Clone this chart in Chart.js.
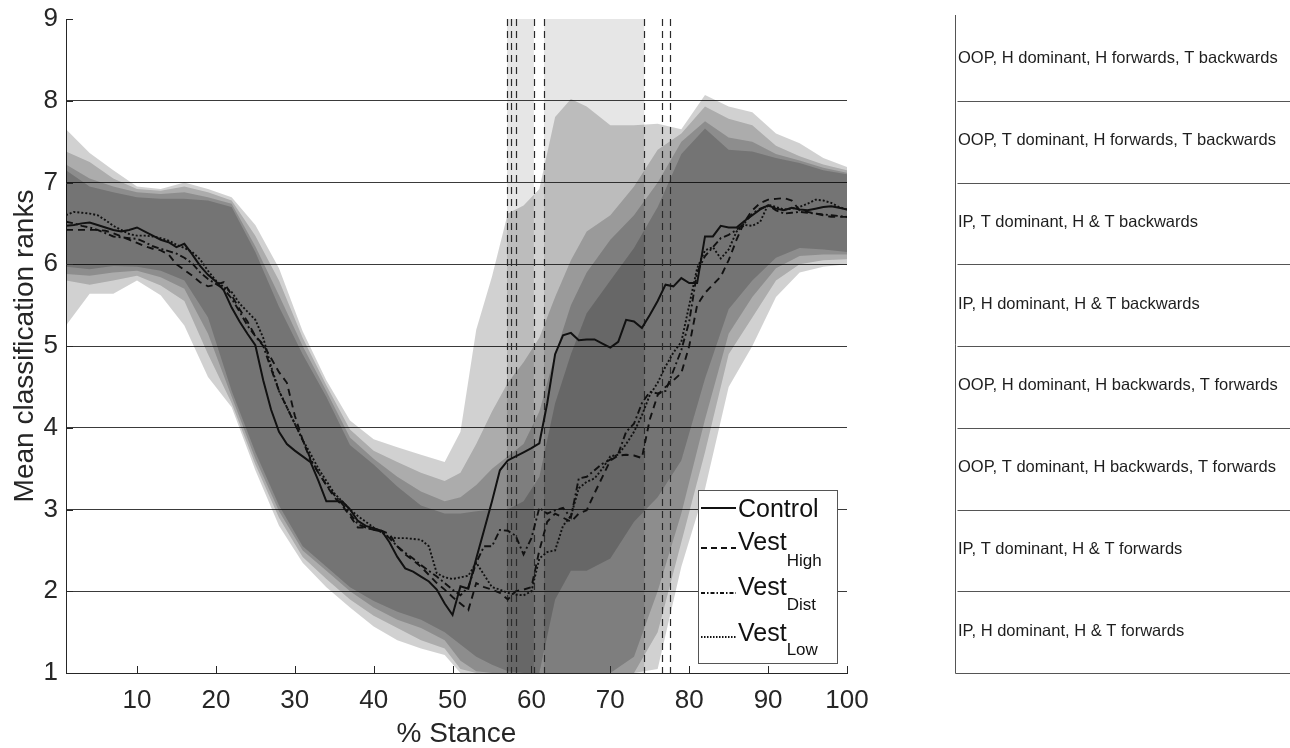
<!DOCTYPE html>
<html>
<head>
<meta charset="utf-8">
<title>Mean classification ranks over % stance</title>
<script src="https://cdn.jsdelivr.net/npm/chart.js@4.4.1/dist/chart.umd.min.js"></script>
<style>
html,body{margin:0;padding:0;background:#ffffff;}
#box{position:relative;width:1290px;height:748px;}
canvas{display:block;}
</style>
</head>
<body>
<div id="box"><canvas id="chart" width="1290" height="748"></canvas></div>
<script>
// ---------- DATA ----------
const stance = [1,2,3,4,5,6,7,8,9,10,11,12,13,14,15,16,17,18,19,20,21,22,23,24,25,26,27,28,29,30,31,32,33,34,35,36,37,38,39,40,41,42,43,44,45,46,47,48,49,50,51,52,53,54,55,56,57,58,59,60,61,62,63,64,65,66,67,68,69,70,71,72,73,74,75,76,77,78,79,80,81,82,83,84,85,86,87,88,89,90,91,92,93,94,95,96,97,98,99,100];

const control = [6.47,6.48,6.50,6.51,6.48,6.45,6.42,6.40,6.42,6.45, 6.40,6.35,6.30,6.27,6.21,6.25,6.12,5.98,5.87,5.79, 5.68,5.47,5.30,5.15,5.01,4.58,4.22,3.95,3.80,3.72, 3.65,3.58,3.35,3.10,3.10,3.10,3.00,2.86,2.80,2.77, 2.74,2.60,2.42,2.28,2.24,2.18,2.12,2.02,1.85,1.71, 2.06,2.03,2.40,2.75,3.10,3.48,3.60,3.65,3.70,3.75, 3.81,4.30,4.90,5.13,5.16,5.07,5.08,5.08,5.03,4.98, 5.05,5.32,5.30,5.22,5.38,5.55,5.75,5.73,5.83,5.77, 5.77,6.34,6.34,6.47,6.45,6.45,6.53,6.60,6.67,6.72, 6.68,6.66,6.69,6.67,6.66,6.68,6.70,6.71,6.69,6.67];

const vestHigh = [6.42,6.42,6.42,6.42,6.42,6.41,6.38,6.34,6.30,6.26, 6.22,6.19,6.17,6.12,6.00,5.93,5.86,5.78,5.73,5.75, 5.78,5.62,5.45,5.30,5.12,5.02,4.85,4.68,4.55,4.15, 3.85,3.60,3.45,3.30,3.15,3.05,2.92,2.78,2.78,2.75, 2.74,2.70,2.55,2.45,2.38,2.30,2.20,2.10,2.02,1.93, 1.85,1.77,2.10,2.05,2.02,1.98,1.90,2.00,2.02,2.05, 2.50,2.85,2.95,2.90,2.85,2.95,2.99,3.20,3.40,3.60, 3.66,3.67,3.66,3.63,4.10,4.40,4.50,4.58,4.67,5.00, 5.50,5.65,5.75,5.85,6.05,6.30,6.52,6.66,6.75,6.79, 6.80,6.81,6.78,6.66,6.64,6.62,6.60,6.58,6.58,6.58];

const vestDist = [6.52,6.50,6.47,6.45,6.42,6.38,6.34,6.33,6.32,6.31, 6.27,6.22,6.19,6.16,6.13,6.08,6.01,5.90,5.82,5.76, 5.70,5.58,5.42,5.25,5.12,5.00,4.72,4.45,4.25,4.05, 3.85,3.62,3.45,3.30,3.18,3.07,2.95,2.82,2.78,2.75, 2.73,2.65,2.55,2.47,2.40,2.32,2.25,2.18,2.10,2.02, 1.95,2.05,2.35,2.55,2.55,2.75,2.74,2.68,2.45,2.65, 3.02,2.95,2.99,3.02,2.90,3.38,3.40,3.48,3.56,3.61, 3.68,3.95,4.05,4.30,4.44,4.42,4.45,4.70,4.95,5.30, 5.90,6.10,6.21,6.32,6.36,6.42,6.50,6.62,6.68,6.72, 6.66,6.62,6.63,6.64,6.63,6.62,6.61,6.60,6.59,6.58];

const vestLow = [6.60,6.64,6.63,6.62,6.60,6.54,6.47,6.42,6.37,6.35, 6.35,6.34,6.32,6.29,6.24,6.20,6.15,6.06,5.92,5.80, 5.72,5.66,5.52,5.42,5.32,5.10,4.75,4.45,4.25,4.05, 3.85,3.68,3.50,3.35,3.20,3.10,3.00,2.92,2.85,2.78, 2.72,2.66,2.65,2.65,2.64,2.63,2.55,2.22,2.17,2.15, 2.17,2.19,2.35,2.20,2.05,2.02,1.98,1.96,1.95,2.00, 2.40,2.48,2.50,2.80,2.92,3.26,3.34,3.38,3.50,3.65, 3.67,3.80,3.95,4.15,4.40,4.55,4.75,4.92,5.05,5.50, 5.95,6.17,6.21,6.07,6.18,6.40,6.48,6.47,6.52,6.73, 6.70,6.67,6.68,6.70,6.74,6.79,6.78,6.75,6.70,6.67];

// SD shading envelopes (outermost band1 .. innermost band4), sampled on bandStance
const bandStance = [1,4,7,10,13,16,19,22,25,28,31,34,37,40,43,46,49,51,53,55,57,59,61,63,65,67,70,73,76,79,82,85,88,91,94,97,100];
const band1Upper = [7.65,7.36,7.15,6.95,6.92,7.00,6.92,6.82,6.48,5.95,5.18,4.58,4.09,3.86,3.76,3.67,3.58, 3.95,5.20,5.85,6.62,6.72,6.92,7.80,8.02,7.93, 7.70,7.70,7.72,7.65,8.07,7.93,7.86,7.60,7.48,7.30,7.19];
const band1Lower = [5.25,5.64,5.64,5.80,5.62,5.25,4.62,4.25,3.48,2.80,2.35,2.05,1.80,1.57,1.40,1.30,1.22, 1.00,1.00,1.00,1.00,1.00,1.00,1.00,1.00,1.00, 1.00,1.00,1.05,2.30,3.25,4.50,5.00,5.60,5.90,5.97,6.00];
const band2Upper = [7.38,7.25,7.05,6.92,6.90,6.95,6.88,6.78,6.35,5.80,5.10,4.52,3.98,3.72,3.58,3.45,3.35, 3.45,3.80,4.20,4.55,4.80,5.10,5.60,6.05,6.40, 6.60,6.95,7.40,7.60,7.93,7.78,7.70,7.45,7.32,7.22,7.15];
const band2Lower = [5.80,5.75,5.80,5.86,5.74,5.55,4.90,4.30,3.55,2.90,2.42,2.15,1.90,1.70,1.55,1.40,1.30, 1.05,1.00,1.00,1.00,1.00,1.00,1.00,1.00,1.00, 1.00,1.00,1.50,2.60,3.70,4.90,5.35,5.80,6.00,6.05,6.06];
const band3Upper = [7.22,7.05,6.95,6.88,6.86,6.88,6.82,6.74,6.22,5.62,5.00,4.45,3.88,3.62,3.40,3.22,3.10, 3.15,3.30,3.50,3.65,3.80,4.20,4.90,5.50,5.90, 6.30,6.60,7.00,7.50,7.75,7.55,7.50,7.35,7.27,7.18,7.12];
const band3Lower = [5.88,5.86,5.90,5.92,5.84,5.70,5.15,4.38,3.62,2.98,2.50,2.25,2.00,1.80,1.65,1.55,1.40, 1.15,1.02,1.00,1.00,1.00,1.00,1.00,1.00,1.00, 1.00,1.20,2.00,2.95,4.10,5.15,5.60,5.95,6.10,6.12,6.12];
const band4Upper = [7.15,6.95,6.88,6.82,6.80,6.80,6.78,6.70,6.15,5.48,4.90,4.38,3.79,3.55,3.28,3.05,2.95, 2.95,2.98,3.00,3.00,3.10,3.40,4.30,4.90,5.40, 5.80,6.20,6.70,7.35,7.66,7.40,7.38,7.30,7.24,7.15,7.10];
const band4Lower = [5.97,5.94,5.98,5.97,5.92,5.80,5.35,4.45,3.70,3.05,2.55,2.30,2.05,1.88,1.75,1.65,1.50, 1.35,1.20,1.10,1.02,1.00,1.00,1.90,2.25,2.25, 2.40,2.85,3.15,3.60,4.60,5.45,5.80,6.08,6.20,6.18,6.15];

// shaded stance intervals and dashed marker lines
const spanStart = [56.9, 61.6];
const spanEnd = [60.3, 74.3];
const markerLines = [56.9, 57.4, 58.0, 60.3, 61.6, 74.3, 76.5, 77.5];

const xTicks = [10,20,30,40,50,60,70,80,90,100];
const yTicks = [1,2,3,4,5,6,7,8,9];

const legendMain = ['Control','Vest','Vest','Vest'];
const legendSub = ['','High','Dist','Low'];

// classification labels, top (rank 8-9) to bottom (rank 1-2)
const classLabels = [
  'OOP, H dominant, H forwards, T backwards',
  'OOP, T dominant, H forwards, T backwards',
  'IP, T dominant, H & T backwards',
  'IP, H dominant, H & T backwards',
  'OOP, H dominant, H backwards, T forwards',
  'OOP, T dominant, H backwards, T forwards',
  'IP, T dominant, H & T forwards',
  'IP, H dominant, H & T forwards'
];

// ---------- STYLE / BUILD ----------
const FONT = '"Liberation Sans", Arial, Helvetica, sans-serif';
const INK = '#262626';
const dashes = [[], [7,5], [7,3,2,3], [2,2]];
const widths = [2, 1.9, 1.9, 1.9];

function pts(xs, ys){ return xs.map((x,i)=>({x:x, y:ys[i]})); }

const seriesValues = [control, vestHigh, vestDist, vestLow];
const datasets = seriesValues.map((vals, i) => ({
  label: legendMain[i] + legendSub[i],
  data: pts(stance, vals),
  borderColor: '#111111',
  borderWidth: widths[i],
  borderDash: dashes[i],
  pointRadius: 0,
  fill: false,
  tension: 0
}));
const bands = [[band1Upper, band1Lower],[band2Upper, band2Lower],[band3Upper, band3Lower],[band4Upper, band4Lower]];
bands.forEach((b, k) => {
  datasets.push({label:'band'+(k+1)+' upper', data: pts(bandStance, b[0]), borderColor:'rgba(0,0,0,0)', borderWidth:0, pointRadius:0, fill:'+1', backgroundColor:'rgba(0,0,0,0.18)', tension:0});
  datasets.push({label:'band'+(k+1)+' lower', data: pts(bandStance, b[1]), borderColor:'rgba(0,0,0,0)', borderWidth:0, pointRadius:0, fill:false, tension:0});
});
const LAST_BAND_DRAWN = 4; // datasets drawn in reverse index order

const decor = {
  id: 'decor',
  beforeDraw(chart) {
    const {ctx, chartArea:a, scales:{x}} = chart;
    ctx.save();
    ctx.fillStyle = '#e6e6e6';
    spanStart.forEach((s, i) => {
      const x0 = x.getPixelForValue(s), x1 = x.getPixelForValue(spanEnd[i]);
      ctx.fillRect(x0, a.top, x1 - x0, a.bottom - a.top);
    });
    ctx.restore();
  },
  afterDatasetDraw(chart, args) {
    if (args.index !== LAST_BAND_DRAWN) return;
    const {ctx, chartArea:a, scales:{x}} = chart;
    ctx.save();
    ctx.strokeStyle = '#2a2a2a';
    ctx.lineWidth = 1.2;
    ctx.setLineDash([7,5]);
    markerLines.forEach(v => {
      const p = Math.round(x.getPixelForValue(v)) + 0.5;
      ctx.beginPath(); ctx.moveTo(p, a.top); ctx.lineTo(p, a.bottom); ctx.stroke();
    });
    ctx.restore();
  },
  afterDraw(chart) {
    const {ctx, chartArea:a, scales:{x, y}} = chart;
    ctx.save();
    // inward tick marks
    ctx.strokeStyle = INK; ctx.lineWidth = 1; ctx.setLineDash([]);
    ctx.beginPath();
    xTicks.forEach(v => { const p = Math.round(x.getPixelForValue(v)) + 0.5; ctx.moveTo(p, a.bottom); ctx.lineTo(p, a.bottom - 7); });
    yTicks.forEach(v => { const p = Math.round(y.getPixelForValue(v)) + 0.5; ctx.moveTo(a.left, p); ctx.lineTo(a.left + 7, p); });
    ctx.stroke();

    // legend
    const bw = 139, bh = 173;
    const bx = a.right - 10 - bw, by = a.bottom - 10 - bh;
    ctx.fillStyle = '#ffffff';
    ctx.fillRect(bx, by, bw, bh);
    ctx.strokeStyle = '#555555'; ctx.lineWidth = 1;
    ctx.strokeRect(Math.round(bx) + 0.5, Math.round(by) + 0.5, bw, bh);
    const rowMain = [20, 53, 98, 144];
    const rowSub = [0, 71, 115, 160];
    const rowLine = [18, 58, 103, 147];
    ctx.fillStyle = '#111111';
    ctx.textBaseline = 'middle'; ctx.textAlign = 'left';
    for (let i = 0; i < 4; i++) {
      ctx.save();
      ctx.strokeStyle = '#111111'; ctx.lineWidth = widths[i];
      ctx.setLineDash(i === 2 ? [4,2,1.5,2] : (i === 3 ? [1.5,1.5] : (i === 1 ? [6,4] : [])));
      ctx.beginPath(); ctx.moveTo(bx + 3, by + rowLine[i]); ctx.lineTo(bx + 38, by + rowLine[i]); ctx.stroke();
      ctx.restore();
      ctx.font = '25px ' + FONT;
      ctx.fillText(legendMain[i], bx + 40, by + rowMain[i]);
      if (legendSub[i]) {
        const w = ctx.measureText(legendMain[i]).width;
        ctx.font = '17px ' + FONT;
        ctx.fillText(legendSub[i], bx + 40 + w, by + rowSub[i]);
      }
    }

    // right-hand classification panel
    const lx = 955.5;
    ctx.strokeStyle = '#555555'; ctx.lineWidth = 1;
    ctx.beginPath();
    ctx.moveTo(lx, Math.round(y.getPixelForValue(9)) - 4);
    ctx.lineTo(lx, Math.round(y.getPixelForValue(1)) + 0.5);
    for (let k = 1; k <= 8; k++) {
      const p = Math.round(y.getPixelForValue(k)) + 0.5;
      ctx.moveTo(k === 1 ? lx : lx + 2, p); ctx.lineTo(1290, p);
    }
    ctx.stroke();
    ctx.fillStyle = '#1e1e1e';
    ctx.font = '16.5px ' + FONT;
    ctx.textBaseline = 'middle';
    classLabels.forEach((t, i) => {
      ctx.fillText(t, lx + 2.5, y.getPixelForValue(8.5 - i) - 1);
    });
    ctx.restore();
  }
};

new Chart(document.getElementById('chart'), {
  type: 'line',
  data: { datasets: datasets },
  options: {
    responsive: false,
    animation: false,
    devicePixelRatio: 1,
    layout: { padding: { left: 0, top: 19, right: 443, bottom: 0 } },
    plugins: { legend: { display: false }, tooltip: { enabled: false }, filler: { propagate: false } },
    elements: { point: { radius: 0 }, line: { borderCapStyle: 'butt' } },
    scales: {
      x: {
        type: 'linear', min: 1, max: 100,
        afterBuildTicks: s => { s.ticks = xTicks.map(v => ({ value: v })); },
        afterFit: s => { s.height = 75; s.paddingLeft = 0; s.paddingRight = 0; },
        grid: { display: false, drawTicks: false },
        border: { display: true, color: INK, width: 1 },
        ticks: { font: { family: FONT, size: 26 }, color: INK, padding: 12, maxRotation: 0, autoSkip: false },
        title: { display: true, text: '% Stance', font: { family: FONT, size: 28, lineHeight: 1 }, color: INK, padding: { top: 0, bottom: 0 } }
      },
      y: {
        type: 'linear', min: 1, max: 9,
        afterBuildTicks: s => { s.ticks = yTicks.map(v => ({ value: v })); },
        afterFit: s => { s.width = 66; s.paddingTop = 0; s.paddingBottom = 0; },
        grid: {
          display: true, drawTicks: false, lineWidth: 1,
          color: c => (c.tick && c.tick.value > 1 && c.tick.value < 9) ? '#3a3a3a' : 'rgba(0,0,0,0)'
        },
        border: { display: true, color: INK, width: 1 },
        ticks: { font: { family: FONT, size: 26 }, color: INK, padding: 8 },
        title: { display: true, text: 'Mean classification ranks', font: { family: FONT, size: 28, lineHeight: 1 }, color: INK, padding: { top: 11, bottom: 0 } }
      }
    }
  },
  plugins: [decor]
});
</script>
</body>
</html>
